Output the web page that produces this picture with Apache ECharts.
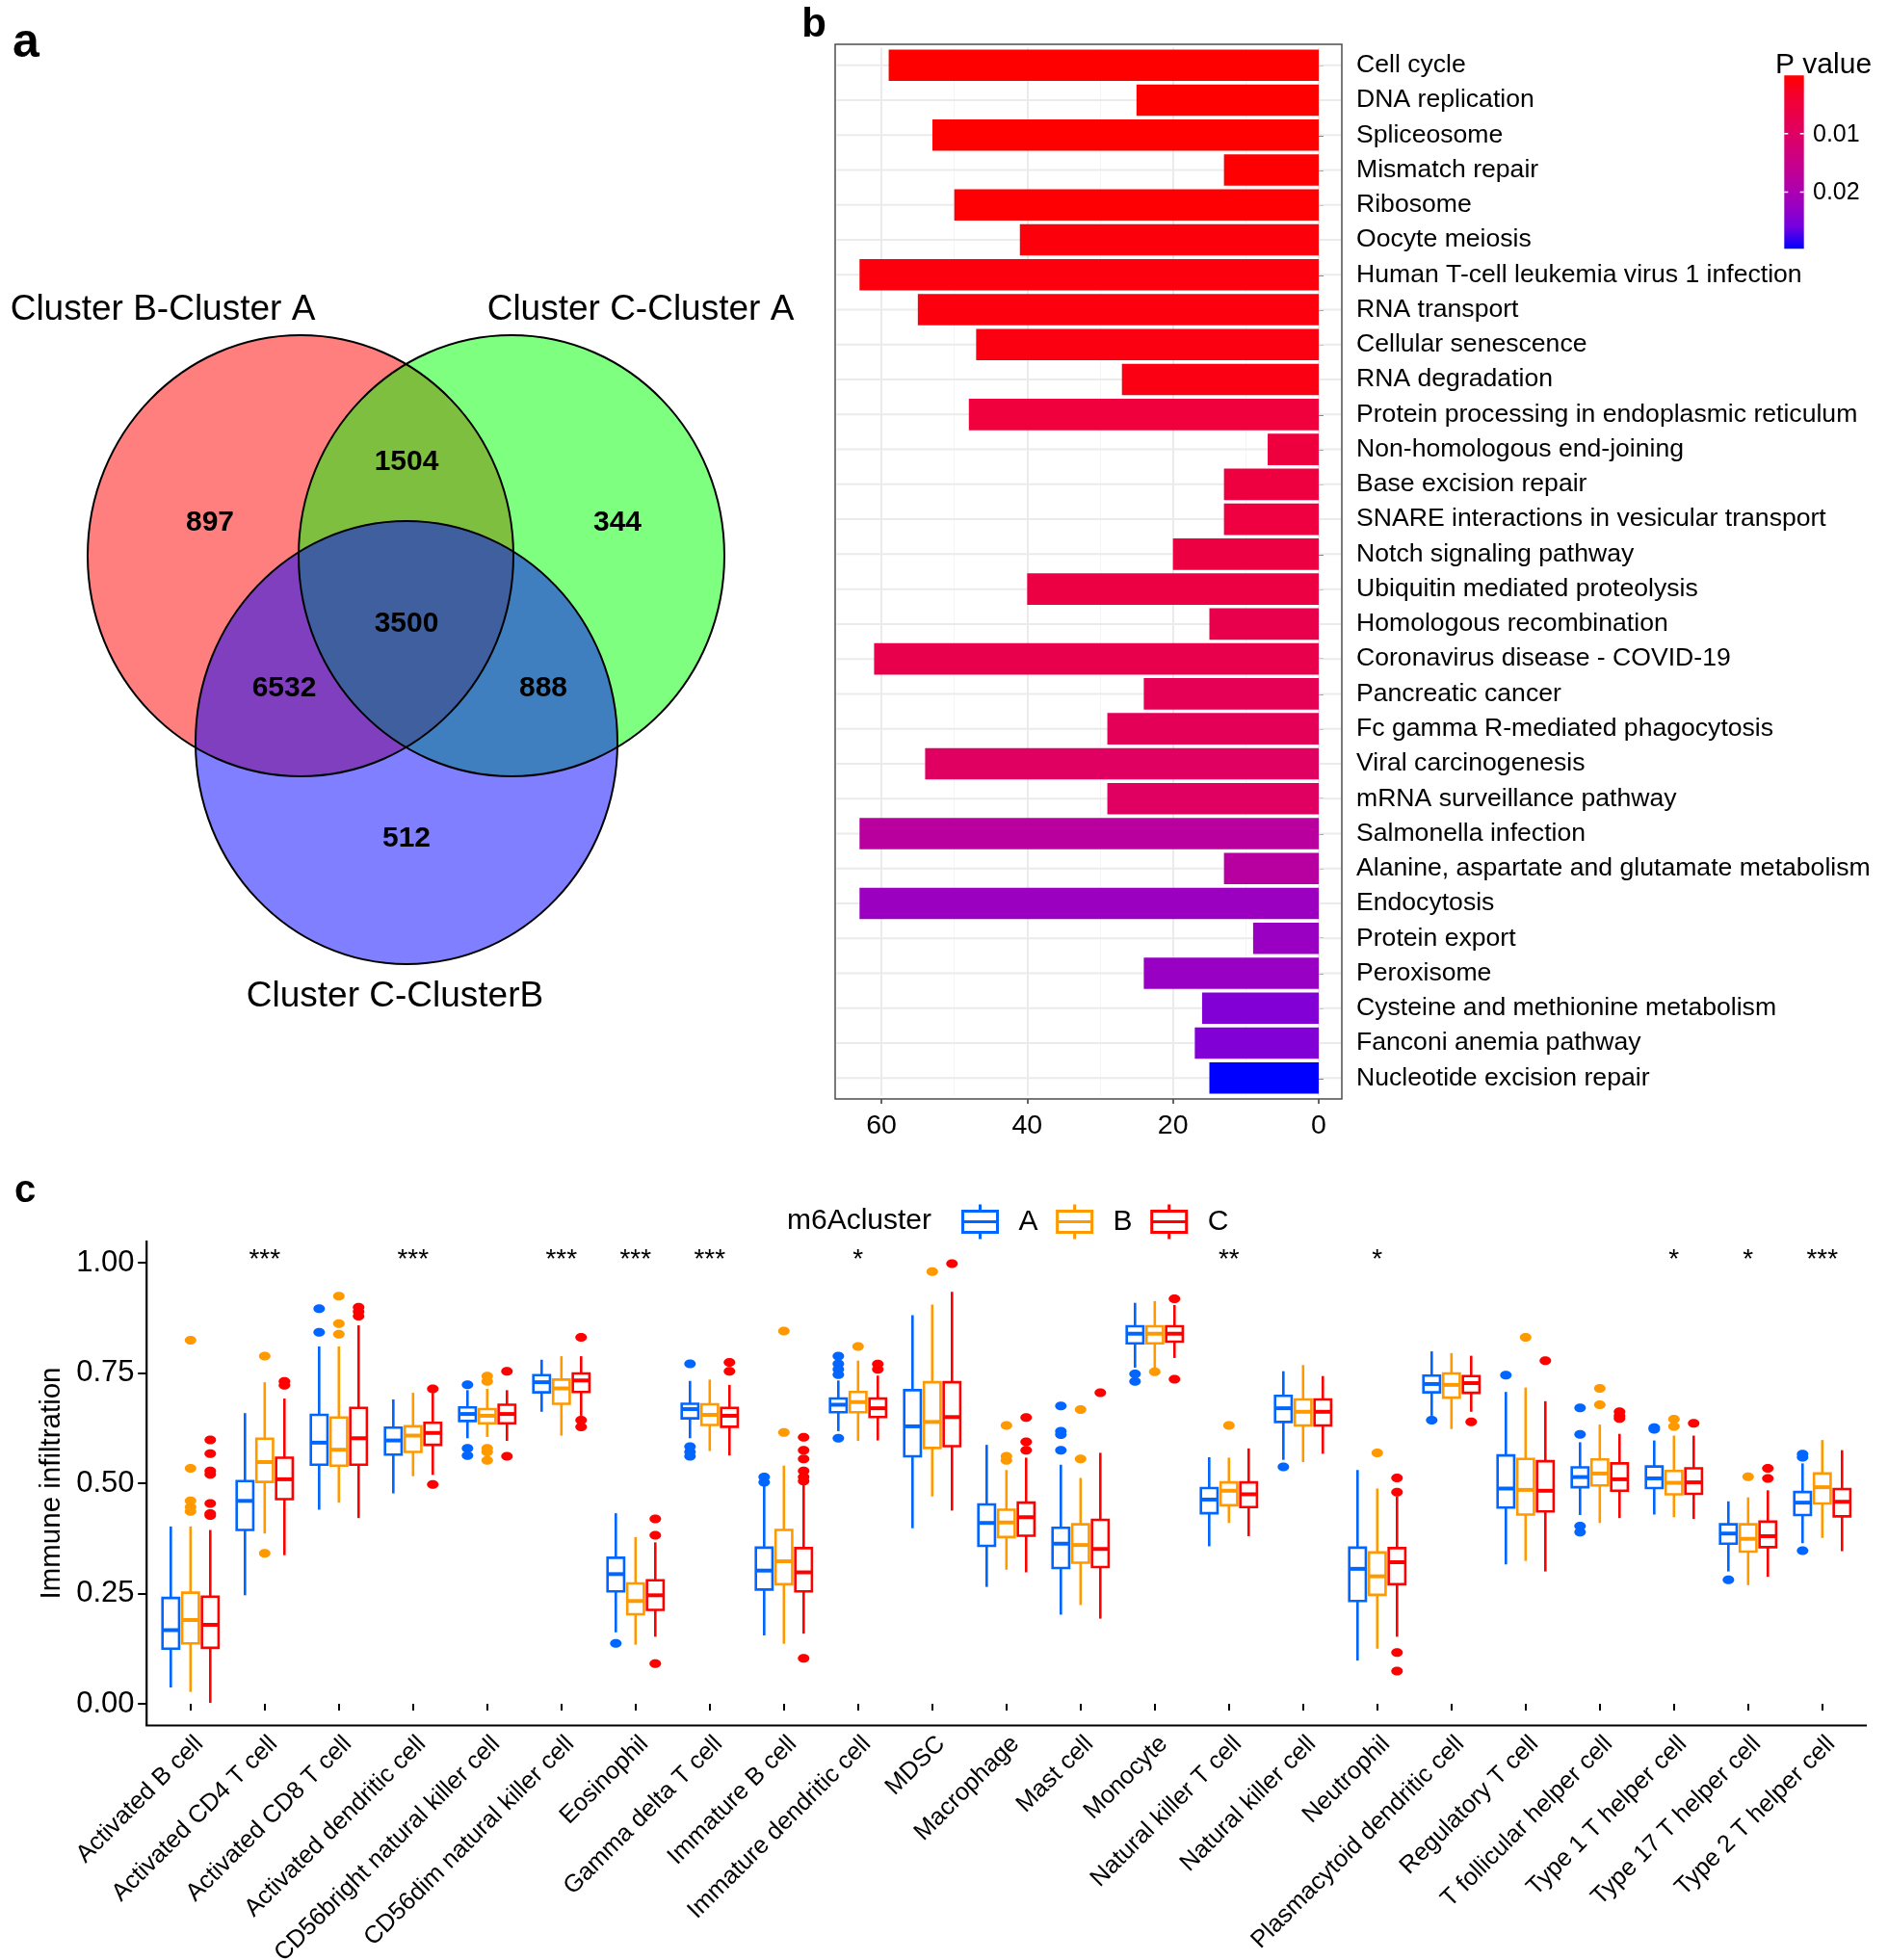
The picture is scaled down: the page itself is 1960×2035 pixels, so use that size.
<!DOCTYPE html>
<html><head><meta charset="utf-8">
<script src="https://cdn.jsdelivr.net/npm/echarts@6/dist/echarts.min.js"></script>
<style>html,body{margin:0;padding:0;background:#fff}#main{width:1960px;height:2035px}</style>
</head><body><div id="main"></div>
<script>
const FONT = "'Liberation Sans', Arial, Helvetica, sans-serif";

// ---------- Panel a : Venn ----------
const vennSetNames = ['Cluster B-Cluster A', 'Cluster C-Cluster A', 'Cluster C-ClusterB'];
const vennRegions = ['B-A only', 'B-A & C-A', 'C-A only', 'all three', 'B-A & C-B', 'C-A & C-B', 'C-B only'];
const vennCounts = [897, 1504, 344, 3500, 6532, 888, 512];

// ---------- Panel b : KEGG bars ----------
const pathways = ['Cell cycle', 'DNA replication', 'Spliceosome', 'Mismatch repair', 'Ribosome',
  'Oocyte meiosis', 'Human T-cell leukemia virus 1 infection', 'RNA transport', 'Cellular senescence',
  'RNA degradation', 'Protein processing in endoplasmic reticulum', 'Non-homologous end-joining',
  'Base excision repair', 'SNARE interactions in vesicular transport', 'Notch signaling pathway',
  'Ubiquitin mediated proteolysis', 'Homologous recombination', 'Coronavirus disease - COVID-19',
  'Pancreatic cancer', 'Fc gamma R-mediated phagocytosis', 'Viral carcinogenesis',
  'mRNA surveillance pathway', 'Salmonella infection', 'Alanine, aspartate and glutamate metabolism',
  'Endocytosis', 'Protein export', 'Peroxisome', 'Cysteine and methionine metabolism',
  'Fanconi anemia pathway', 'Nucleotide excision repair'];
const geneCounts = [59, 25, 53, 13, 50, 41, 63, 55, 47, 27, 48, 7, 13, 13, 20, 40, 15, 61, 24, 29, 54, 29, 63, 13, 63, 9, 24, 16, 17, 15];
const pValues = [0.00003, 0.00008, 0.00012, 0.0002, 0.0003, 0.0009, 0.0010, 0.0011, 0.0013, 0.0015,
  0.0051, 0.0055, 0.0056, 0.0057, 0.0058, 0.0060, 0.0071, 0.0072, 0.0083, 0.0084,
  0.0098, 0.0099, 0.0178, 0.0180, 0.0222, 0.0223, 0.0225, 0.0246, 0.0248, 0.0297];
const xTicksB = [0, 20, 40, 60];
const pTicks = [0.01, 0.02];

// ---------- Panel c : immune infiltration boxplots ----------
const cellTypes = ['Activated B cell', 'Activated CD4 T cell', 'Activated CD8 T cell', 'Activated dendritic cell',
  'CD56bright natural killer cell', 'CD56dim natural killer cell', 'Eosinophil', 'Gamma delta T cell',
  'Immature B cell', 'Immature dendritic cell', 'MDSC', 'Macrophage', 'Mast cell', 'Monocyte',
  'Natural killer T cell', 'Natural killer cell', 'Neutrophil', 'Plasmacytoid dendritic cell',
  'Regulatory T cell', 'T follicular helper cell', 'Type 1 T helper cell', 'Type 17 T helper cell',
  'Type 2 T helper cell'];
const clusters = ['A', 'B', 'C'];
// [min, q1, median, q3, max]
const boxA = [[0.037,0.125,0.167,0.240,0.402],[0.246,0.394,0.460,0.505,0.659],[0.440,0.542,0.592,0.655,0.810],
  [0.477,0.565,0.597,0.626,0.690],[0.602,0.641,0.657,0.672,0.711],[0.662,0.706,0.729,0.745,0.780],
  [0.162,0.255,0.294,0.331,0.432],[0.602,0.647,0.668,0.680,0.732],[0.155,0.259,0.302,0.354,0.498],
  [0.618,0.661,0.678,0.692,0.733],[0.398,0.561,0.629,0.711,0.881],[0.265,0.358,0.410,0.452,0.587],
  [0.202,0.308,0.363,0.399,0.542],[0.762,0.817,0.839,0.856,0.909],[0.357,0.432,0.463,0.489,0.559],
  [0.553,0.639,0.670,0.698,0.754],[0.098,0.233,0.306,0.354,0.530],[0.653,0.706,0.725,0.744,0.799],
  [0.316,0.445,0.488,0.563,0.707],[0.428,0.491,0.514,0.536,0.593],[0.429,0.489,0.511,0.538,0.597],
  [0.300,0.363,0.386,0.407,0.459],[0.364,0.428,0.456,0.480,0.545]];
const boxB = [[0.027,0.137,0.190,0.252,0.402],[0.386,0.503,0.548,0.601,0.729],[0.456,0.540,0.576,0.649,0.810],
  [0.516,0.571,0.608,0.629,0.705],[0.605,0.636,0.653,0.668,0.714],[0.608,0.680,0.715,0.735,0.788],
  [0.134,0.203,0.233,0.273,0.378],[0.573,0.632,0.655,0.679,0.735],[0.136,0.271,0.323,0.394,0.540],
  [0.596,0.661,0.684,0.707,0.778],[0.470,0.580,0.639,0.729,0.905],[0.304,0.378,0.411,0.440,0.530],
  [0.224,0.320,0.360,0.407,0.512],[0.762,0.817,0.839,0.856,0.913],[0.410,0.450,0.483,0.502,0.558],
  [0.548,0.631,0.662,0.690,0.768],[0.125,0.247,0.289,0.343,0.488],[0.623,0.694,0.723,0.749,0.795],
  [0.324,0.429,0.485,0.555,0.717],[0.410,0.495,0.522,0.554,0.633],[0.423,0.475,0.501,0.528,0.608],
  [0.269,0.345,0.374,0.407,0.468],[0.376,0.454,0.491,0.522,0.598]];
const boxC = [[0.002,0.127,0.179,0.243,0.394],[0.337,0.464,0.509,0.558,0.692],[0.421,0.542,0.602,0.671,0.858],
  [0.519,0.587,0.614,0.637,0.705],[0.596,0.636,0.657,0.678,0.711],[0.653,0.707,0.733,0.749,0.788],
  [0.152,0.213,0.246,0.280,0.366],[0.563,0.628,0.653,0.671,0.723],[0.159,0.255,0.298,0.353,0.501],
  [0.597,0.650,0.670,0.692,0.744],[0.438,0.584,0.650,0.729,0.934],[0.298,0.381,0.423,0.456,0.558],
  [0.193,0.310,0.351,0.417,0.569],[0.784,0.821,0.839,0.856,0.904],[0.380,0.446,0.475,0.502,0.579],
  [0.567,0.631,0.662,0.690,0.743],[0.152,0.271,0.321,0.353,0.470],[0.662,0.705,0.727,0.743,0.789],
  [0.300,0.436,0.483,0.550,0.686],[0.421,0.483,0.509,0.545,0.612],[0.419,0.476,0.502,0.534,0.608],
  [0.288,0.355,0.380,0.413,0.484],[0.346,0.425,0.458,0.487,0.575]];
// outliers: [cellTypeIndex, value]
const outA = [[2,0.896],[2,0.842],[4,0.723],[4,0.579],[4,0.563],[6,0.137],[7,0.771],[7,0.583],[7,0.571],[7,0.561],
  [8,0.514],[8,0.502],[9,0.788],[9,0.771],[9,0.758],[9,0.746],[9,0.602],[12,0.675],[12,0.618],[12,0.610],[12,0.575],
  [13,0.748],[13,0.731],[15,0.537],[17,0.643],[18,0.745],[19,0.671],[19,0.611],[19,0.403],[19,0.389],
  [20,0.626],[20,0.622],[21,0.281],[22,0.566],[22,0.559],[22,0.347]];
const outB = [[0,0.824],[0,0.534],[0,0.460],[0,0.446],[0,0.436],[1,0.788],[1,0.341],[2,0.924],[2,0.862],[2,0.838],
  [4,0.743],[4,0.731],[4,0.579],[4,0.571],[4,0.552],[8,0.845],[8,0.615],[9,0.810],[10,0.980],
  [11,0.631],[11,0.561],[11,0.552],[12,0.667],[12,0.555],[13,0.753],[14,0.631],[16,0.569],[18,0.831],
  [19,0.715],[19,0.678],[20,0.645],[20,0.629],[21,0.515]];
const outC = [[0,0.598],[0,0.567],[0,0.528],[0,0.520],[0,0.454],[0,0.431],[0,0.427],[1,0.731],[1,0.722],
  [2,0.899],[2,0.889],[2,0.879],[3,0.714],[3,0.497],[4,0.754],[4,0.561],[5,0.831],[5,0.643],[5,0.628],
  [6,0.419],[6,0.382],[6,0.091],[7,0.774],[7,0.754],[8,0.604],[8,0.575],[8,0.555],[8,0.528],[8,0.514],[8,0.505],[8,0.103],
  [9,0.770],[9,0.758],[10,0.998],[11,0.649],[11,0.594],[11,0.575],[12,0.705],[13,0.918],[13,0.736],
  [16,0.512],[16,0.480],[16,0.116],[16,0.074],[17,0.639],[18,0.778],[19,0.662],[19,0.653],[19,0.647],
  [20,0.636],[21,0.534],[21,0.511]];
const significance = ['', '***', '', '***', '', '***', '***', '***', '', '*', '', '', '', '', '**', '', '*', '', '', '', '*', '*', '***'];
const yTicksC = [0, 0.25, 0.5, 0.75, 1];

// ---------- styles / layout ----------
const clusterColors = ['#0066FF', '#FF9900', '#FF0000'];
const pGradient = ['#FF0000', '#F40031', '#E8004F', '#DA006C', '#C90089', '#B500A5', '#9A00C2', '#7300E0', '#0000FF'];
const pMin = 0.00003, pMax = 0.0297;
const vennCircles = [
  {cx: 312, cy: 577, rx: 221, ry: 229, fill: 'rgba(255,0,0,0.5)'},
  {cx: 531, cy: 577, rx: 221, ry: 229, fill: 'rgba(0,255,0,0.5)'},
  {cx: 422, cy: 771, rx: 219, ry: 230, fill: 'rgba(0,0,255,0.5)'}];
const vennNamePos = [[169, 322], [665, 322], [410, 1035]];
const vennCountPos = [[218, 543], [422, 480], [641, 543], [422, 648], [295, 715], [564, 715], [422, 871]];

function txt(text, x, y, font, align, valign, fill) {
  align = align || 'center'; valign = valign || 'middle';
  return {type: 'text', silent: true, z: 50,
    style: {text: text, x: x, y: y, font: font, fill: fill || '#000',
      align: align, verticalAlign: valign, textAlign: align, textVerticalAlign: valign}};
}

const graphics = [];
graphics.push(txt('a', 27, 45, 'bold 50px ' + FONT));
graphics.push(txt('b', 845, 26, 'bold 42px ' + FONT));
graphics.push(txt('c', 26, 1237, 'bold 40px ' + FONT));
vennCircles.forEach((c, i) => graphics.push({type: 'ellipse', silent: true, z: 10 + i,
  shape: {cx: c.cx, cy: c.cy, rx: c.rx, ry: c.ry}, style: {fill: c.fill}}));
vennCircles.forEach((c) => graphics.push({type: 'ellipse', silent: true, z: 20,
  shape: {cx: c.cx, cy: c.cy, rx: c.rx, ry: c.ry}, style: {fill: 'none', stroke: '#000', lineWidth: 2}}));
vennSetNames.forEach((n, i) => graphics.push(txt(n, vennNamePos[i][0], vennNamePos[i][1], '37px ' + FONT)));
vennCounts.forEach((n, i) => graphics.push(txt(String(n), vennCountPos[i][0], vennCountPos[i][1], 'bold 30px ' + FONT)));

// panel b border
graphics.push({type: 'rect', silent: true, z: 60, shape: {x: 867, y: 46, width: 526, height: 1095},
  style: {fill: 'none', stroke: '#4d4d4d', lineWidth: 1.5}});
// colour bar
const cbX = 1852.3, cbY = 78.3, cbW = 20.4, cbH = 180;
graphics.push({type: 'rect', silent: true, z: 60, shape: {x: cbX, y: cbY, width: cbW, height: cbH},
  style: {fill: {type: 'linear', x: 0, y: 0, x2: 0, y2: 1,
    colorStops: pGradient.map((c, i) => ({offset: i / (pGradient.length - 1), color: c}))}}});
pTicks.forEach(p => {
  const y = cbY + (p - pMin) / (pMax - pMin) * cbH;
  graphics.push({type: 'line', silent: true, z: 61, shape: {x1: cbX, y1: y, x2: cbX + 4, y2: y}, style: {stroke: '#fff', lineWidth: 1.5}});
  graphics.push({type: 'line', silent: true, z: 61, shape: {x1: cbX + cbW - 4, y1: y, x2: cbX + cbW, y2: y}, style: {stroke: '#fff', lineWidth: 1.5}});
  graphics.push(txt(p.toFixed(2), 1882, y + 1, '25px ' + FONT, 'left'));
});
graphics.push(txt('P value', 1843, 68, '30px ' + FONT, 'left'));

// panel c axes lines + legend title
graphics.push({type: 'line', silent: true, z: 60, shape: {x1: 152.2, y1: 1288, x2: 152.2, y2: 1791.5}, style: {stroke: '#000', lineWidth: 2.2}});
graphics.push({type: 'line', silent: true, z: 60, shape: {x1: 151.1, y1: 1791.5, x2: 1938, y2: 1791.5}, style: {stroke: '#000', lineWidth: 2.2}});
graphics.push(txt('m6Acluster', 817, 1268, '30px ' + FONT, 'left'));

// ---------- series ----------
const series = [];
series.push({
  type: 'custom', name: 'grid', xAxisIndex: 0, yAxisIndex: 0, silent: true, z: 1, clip: false,
  data: pathways.map((_, i) => [0, i]), encode: {x: 0, y: 1},
  renderItem: (params, api) => {
    const i = api.value(1);
    const p1 = api.coord([66.15, i]), p2 = api.coord([-3.15, i]);
    return {type: 'line', shape: {x1: p1[0], y1: p1[1], x2: p2[0], y2: p2[1]}, style: {stroke: '#EBEBEB', lineWidth: 2}};
  }
});
series.push({
  type: 'bar', name: 'KEGG', xAxisIndex: 0, yAxisIndex: 0, barWidth: 32.6, clip: false, z: 3, silent: true,
  data: geneCounts.map((v, i) => [v, i, pValues[i]]), encode: {x: 0, y: 1}
});

const OFFS = [-1, 0, 1];
clusters.forEach((cl, k) => {
  const boxes = [boxA, boxB, boxC][k];
  const color = clusterColors[k];
  series.push({
    type: 'custom', name: cl, xAxisIndex: 1, yAxisIndex: 1, z: 4, silent: true, clip: false,
    itemStyle: {color: color},
    data: boxes.map((b, i) => [i].concat(b)), encode: {x: 0, y: [1, 2, 3, 4, 5]},
    renderItem: (params, api) => {
      const ci = api.value(0);
      const band = api.size([1, 0])[0];
      const xc = api.coord([ci, 0])[0] + OFFS[k] * band * 0.266;
      const hw = band * 0.112;
      const y = [1, 2, 3, 4, 5].map(d => api.coord([ci, api.value(d)])[1]);
      const st = {stroke: color, lineWidth: 2.6};
      return {type: 'group', children: [
        {type: 'line', shape: {x1: xc, y1: y[4], x2: xc, y2: y[3]}, style: st},
        {type: 'line', shape: {x1: xc, y1: y[1], x2: xc, y2: y[0]}, style: st},
        {type: 'rect', shape: {x: xc - hw, y: y[3], width: 2 * hw, height: y[1] - y[3]}, style: {fill: '#fff', stroke: color, lineWidth: 2.6}},
        {type: 'line', shape: {x1: xc - hw, y1: y[2], x2: xc + hw, y2: y[2]}, style: {stroke: color, lineWidth: 4}}
      ]};
    }
  });
});
clusters.forEach((cl, k) => {
  const outs = [outA, outB, outC][k];
  const color = clusterColors[k];
  series.push({
    type: 'custom', name: cl, xAxisIndex: 1, yAxisIndex: 1, z: 5, silent: true, clip: false,
    itemStyle: {color: color},
    data: outs, encode: {x: 0, y: 1},
    renderItem: (params, api) => {
      const ci = api.value(0);
      const band = api.size([1, 0])[0];
      const p = api.coord([ci, api.value(1)]);
      return {type: 'ellipse', shape: {cx: p[0] + OFFS[k] * band * 0.266, cy: p[1], rx: 6, ry: 4.5}, style: {fill: color}};
    }
  });
});
series.push({
  type: 'custom', name: 'sig', xAxisIndex: 1, yAxisIndex: 1, z: 6, silent: true, clip: false,
  data: significance.map((s, i) => [i, 1.007]), encode: {x: 0, y: 1},
  renderItem: (params, api) => {
    const p = api.coord([api.value(0), api.value(1)]);
    const s = significance[params.dataIndex];
    return {type: 'text', x: p[0], y: p[1], style: {text: s, font: '28px ' + FONT, fill: '#000',
      align: 'center', verticalAlign: 'middle', textAlign: 'center', textVerticalAlign: 'middle'}};
  }
});

const boxIcon = 'path://M0,7L36,7L36,29L0,29ZM0,18L36,18M18,0L18,7M18,29L18,36';

const option = {
  animation: false,
  backgroundColor: '#fff',
  textStyle: {fontFamily: FONT},
  graphic: graphics,
  grid: [
    {left: 915, width: 454, top: 49.6, height: 1087.8, containLabel: false, outerBoundsMode: 'none'},
    {left: 159.3, width: 1771, top: 1311, height: 458, containLabel: false, outerBoundsMode: 'none'}
  ],
  xAxis: [
    {type: 'value', gridIndex: 0, inverse: true, min: 0, max: 60, interval: 20, position: 'bottom', offset: 3.6,
      axisLine: {show: false}, axisTick: {show: true, length: 5, lineStyle: {color: '#333', width: 1.5}},
      axisLabel: {fontSize: 28.5, color: '#000', margin: 14, fontFamily: FONT},
      splitLine: {show: true, lineStyle: {color: '#EBEBEB', width: 2}},
      minorTick: {show: false, splitNumber: 2},
      minorSplitLine: {show: true, lineStyle: {color: '#F5F5F5', width: 1}}},
    {type: 'category', gridIndex: 1, data: cellTypes, offset: 22.5, boundaryGap: true,
      axisLine: {show: false}, axisTick: {show: true, alignWithLabel: true, length: 7, lineStyle: {color: '#000', width: 2}},
      axisLabel: {interval: 0, rotate: 45, fontSize: 25.5, color: '#000', margin: 6, verticalAlign: 'top', fontFamily: FONT},
      splitLine: {show: false}}
  ],
  yAxis: [
    {type: 'category', gridIndex: 0, data: pathways, inverse: true, position: 'right', offset: 24,
      axisLine: {show: false}, axisTick: {show: true, alignWithLabel: true, length: 5, lineStyle: {color: '#333', width: 1.5}},
      axisLabel: {fontSize: 26.6, color: '#000', margin: 15, fontFamily: FONT, padding: [4, 0, 0, 0]},
      splitLine: {show: false}},
    {type: 'value', gridIndex: 1, min: 0, max: 1, interval: 0.25, offset: 7.1,
      name: 'Immune infiltration', nameLocation: 'middle', nameGap: 82, nameRotate: 90,
      nameTextStyle: {fontSize: 29.5, color: '#000', fontFamily: FONT},
      axisLine: {show: false}, axisTick: {show: true, length: 9, lineStyle: {color: '#000', width: 2}},
      axisLabel: {fontSize: 31, color: '#000', margin: 12.6, fontFamily: FONT, padding: [8, 0, 0, 0],
        formatter: v => v.toFixed(2)},
      splitLine: {show: false}}
  ],
  visualMap: {type: 'continuous', show: false, seriesIndex: 1, dimension: 2, min: pMin, max: pMax,
    inRange: {color: pGradient}},
  legend: {
    left: 998, top: 1249, padding: 0, itemGap: 18.6, itemWidth: 36, itemHeight: 36, selectedMode: false,
    textStyle: {fontSize: 30, color: '#000', fontFamily: FONT, padding: [0, 0, 0, 17]},
    data: clusters.map((c, k) => ({name: c, icon: boxIcon,
      itemStyle: {color: 'rgba(0,0,0,0)', borderColor: clusterColors[k], borderWidth: 3}}))
  },
  series: series
};

const chart = echarts.init(document.getElementById('main'), null, {renderer: 'canvas', width: 1960, height: 2035});
chart.setOption(option);
</script></body></html>
